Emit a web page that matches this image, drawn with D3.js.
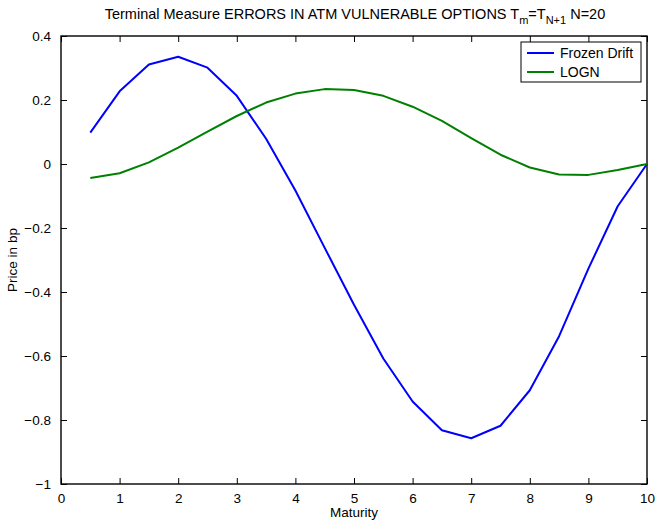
<!DOCTYPE html>
<html>
<head>
<meta charset="utf-8">
<script src="https://cdn.jsdelivr.net/npm/d3@7"></script>
<style>
  html, body { margin: 0; padding: 0; background: #fff; }
  svg { display: block; font-family: "Liberation Sans", Arial, sans-serif; }
</style>
</head>
<body>
<svg id="chart" width="657" height="521"></svg>
<script>
// Maturities (years) and pricing errors (bp) for each method
const maturities = [0.5, 1, 1.5, 2, 2.5, 3, 3.5, 4, 4.5, 5, 5.5, 6, 6.5, 7, 7.5, 8, 8.5, 9, 9.5, 10];
const frozenDrift = [0.098, 0.227, 0.311, 0.335, 0.301, 0.213, 0.079, -0.083, -0.262, -0.44, -0.608, -0.742, -0.832, -0.857, -0.818, -0.707, -0.538, -0.327, -0.132, 0.0];
const logn = [-0.044, -0.029, 0.005, 0.051, 0.101, 0.150, 0.192, 0.220, 0.234, 0.231, 0.213, 0.179, 0.135, 0.081, 0.029, -0.011, -0.033, -0.034, -0.019, 0.0];
const xTicks = [0, 1, 2, 3, 4, 5, 6, 7, 8, 9, 10];
const yTicks = [-1, -0.8, -0.6, -0.4, -0.2, 0, 0.2, 0.4];
const seriesNames = ["Frozen Drift", "LOGN"];
const seriesColors = ["#0000ff", "#008000"];

const svg = d3.select("#chart");
const plotLeft = 61, plotRight = 647, plotTop = 36, plotBottom = 484;
const fontSize = 13.5;

const x = d3.scaleLinear().domain([0, 10]).range([plotLeft, plotRight]);
const y = d3.scaleLinear().domain([-1, 0.4]).range([plotBottom, plotTop]);

const fmt = v => (v === 0 ? "0" : (Number.isInteger(v) ? String(v) : d3.format(".1f")(v))).replace("-", "\u2212");

// Axes with inward ticks on all four sides
const tick = 6;
const axisStyle = g => {
  g.select(".domain").remove();
  g.selectAll("line").attr("stroke", "#000").attr("stroke-width", 1);
  g.selectAll("text").attr("font-size", fontSize).attr("fill", "#000");
};
svg.append("g").attr("transform", `translate(0,${plotBottom})`)
  .call(d3.axisBottom(x).tickValues(xTicks).tickFormat(fmt).tickSizeInner(-tick).tickSizeOuter(0).tickPadding(tick + 3))
  .call(axisStyle);
svg.append("g").attr("transform", `translate(0,${plotTop})`)
  .call(d3.axisTop(x).tickValues(xTicks).tickFormat("").tickSizeInner(-tick).tickSizeOuter(0))
  .call(axisStyle);
svg.append("g").attr("transform", `translate(${plotLeft},0)`)
  .call(d3.axisLeft(y).tickValues(yTicks).tickFormat(fmt).tickSizeInner(-tick).tickSizeOuter(0).tickPadding(tick + 4))
  .call(axisStyle);
svg.append("g").attr("transform", `translate(${plotRight},0)`)
  .call(d3.axisRight(y).tickValues(yTicks).tickFormat("").tickSizeInner(-tick).tickSizeOuter(0))
  .call(axisStyle);

// Frame
svg.append("rect").attr("x", plotLeft).attr("y", plotTop)
  .attr("width", plotRight - plotLeft).attr("height", plotBottom - plotTop)
  .attr("fill", "none").attr("stroke", "#000").attr("stroke-width", 1.4);

// Lines
const line = d3.line().x((d, i) => x(maturities[i])).y(d => y(d));
[frozenDrift, logn].forEach((s, k) => {
  svg.append("path").datum(s).attr("d", line)
    .attr("fill", "none").attr("stroke", seriesColors[k]).attr("stroke-width", 2)
    .attr("stroke-linejoin", "round");
});

// Title with subscripts
const title = svg.append("text").attr("x", 355).attr("y", 19).attr("text-anchor", "middle")
  .attr("font-size", 14.5).attr("fill", "#000");
title.append("tspan").text("Terminal Measure ERRORS IN ATM VULNERABLE OPTIONS T");
title.append("tspan").attr("dy", 4.5).attr("font-size", 11).text("m");
title.append("tspan").attr("dy", -4.5).text("=T");
title.append("tspan").attr("dy", 4.5).attr("font-size", 11).text("N+1");
title.append("tspan").attr("dy", -4.5).text(" N=20");

// Axis labels
svg.append("text").attr("x", x(5)).attr("y", 517).attr("text-anchor", "middle")
  .attr("font-size", fontSize).text("Maturity");
svg.append("text").attr("transform", `translate(17,${(plotTop + plotBottom) / 2}) rotate(-90)`)
  .attr("text-anchor", "middle").attr("font-size", fontSize).text("Price in bp");

// Legend
const lg = svg.append("g");
lg.append("rect").attr("x", 521).attr("y", 42).attr("width", 120).attr("height", 40)
  .attr("fill", "#fff").attr("stroke", "#000").attr("stroke-width", 1);
seriesNames.forEach((n, k) => {
  const yy = 53 + k * 19;
  lg.append("line").attr("x1", 527).attr("x2", 554).attr("y1", yy).attr("y2", yy)
    .attr("stroke", seriesColors[k]).attr("stroke-width", 2);
  lg.append("text").attr("x", 560).attr("y", yy + 5).attr("font-size", 14).text(n);
});
</script>
</body>
</html>
